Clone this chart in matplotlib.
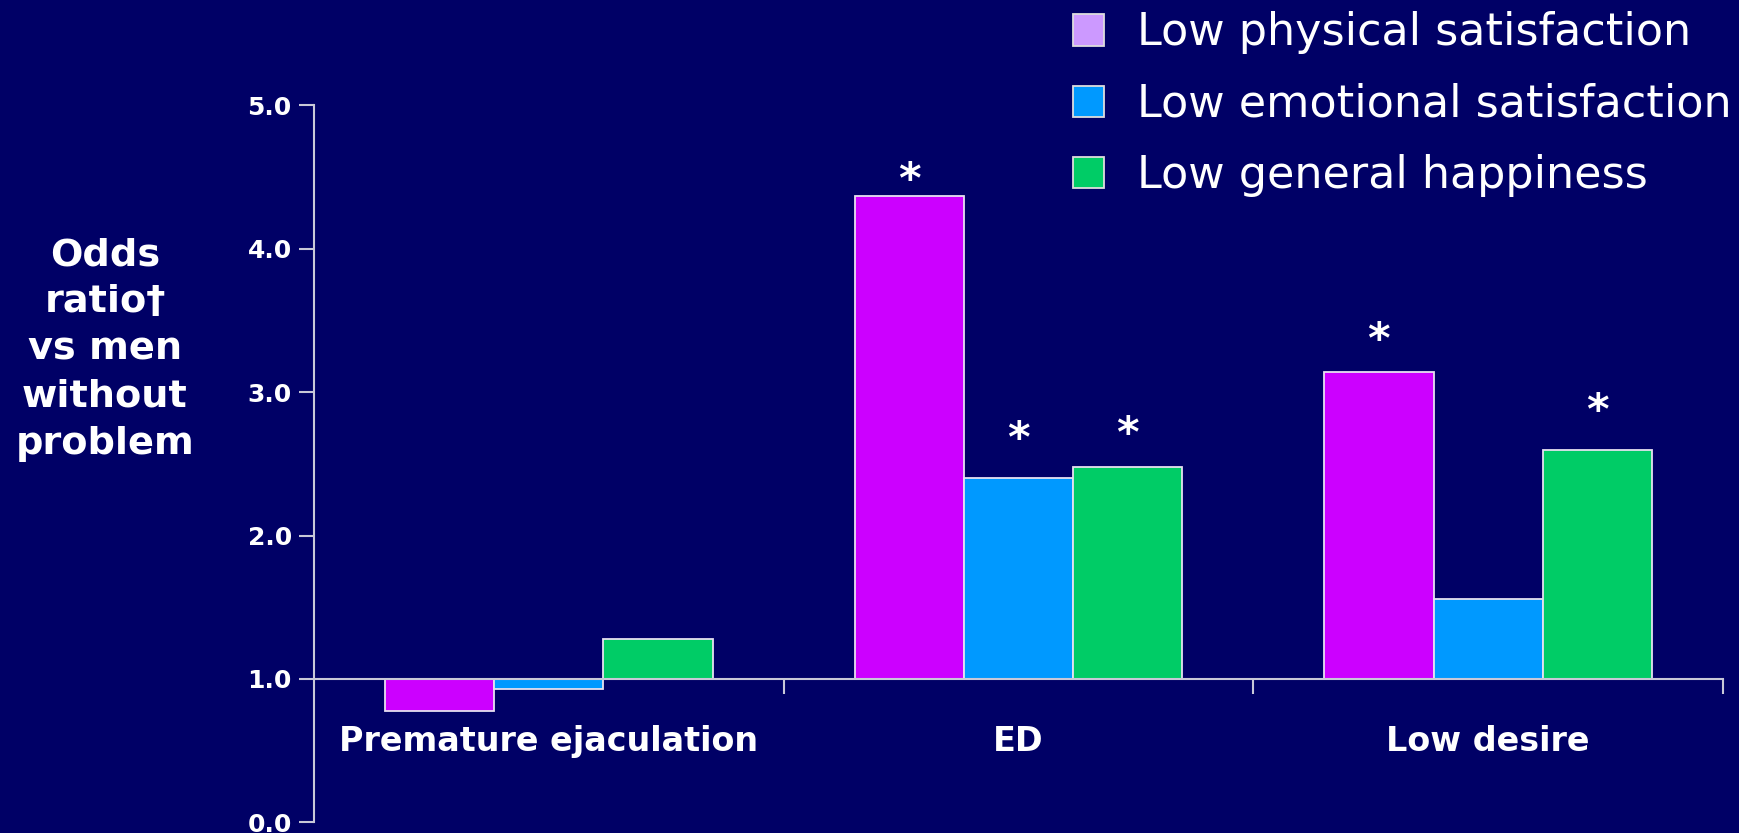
import matplotlib
matplotlib.use("Agg")
import matplotlib.pyplot as plt
from matplotlib.patches import Patch
from matplotlib.ticker import FixedLocator
import numpy as np

# ---- data ----
categories = ["Premature ejaculation", "ED", "Low desire"]
series_names = ["Low physical satisfaction", "Low emotional satisfaction", "Low general happiness"]
physical = [0.78, 4.37, 3.14]
emotional = [0.93, 2.40, 1.56]
happiness = [1.28, 2.48, 2.60]
significant = [  # asterisk flags per series, per category
    [False, True, True],
    [False, True, False],
    [False, True, True],
]
y_ticks = [0.0, 1.0, 2.0, 3.0, 4.0, 5.0]
y_label = "Odds\nratio\u2020\nvs men\nwithout\nproblem"
reference_value = 1.0

# ---- style ----
BG = "#000066"
bar_colors = ["#CC00FF", "#0099FF", "#00CC66"]
legend_colors = ["#CC99FF", "#0099FF", "#00CC66"]
edge = "#E6E0F0"
axis_col = "#C8C8D8"
# vertical gap (data units) between bar top and asterisk, per series/category
star_gap = [[0, 0.105, 0.215], [0, 0.265, 0], [0, 0.225, 0.265]]

W, H = 1740, 833
fig = plt.figure(figsize=(W / 100, H / 100), dpi=100, facecolor=BG)
ax = fig.add_axes([314 / W, 1 - 822.4 / H, 1409 / W, 717 / H])
ax.set_facecolor(BG)

x = np.arange(len(categories))
bw = 0.2327
values = [physical, emotional, happiness]
for i, vals in enumerate(values):
    heights = [v - reference_value for v in vals]
    xs = x + (i - 1) * bw
    ax.bar(xs, heights, width=bw, bottom=reference_value, color=bar_colors[i],
           edgecolor=edge, linewidth=1.3, zorder=3)
    for j, v in enumerate(vals):
        if significant[i][j]:
            ax.text(xs[j], v + star_gap[i][j], "*", ha="center", va="center",
                    color="white", fontsize=31, fontweight="bold", zorder=4)

ax.set_xlim(-0.5, len(categories) - 0.5)
ax.set_ylim(0, 5)

for s in ["top", "right"]:
    ax.spines[s].set_visible(False)
ax.spines["left"].set_color(axis_col)
ax.spines["left"].set_linewidth(1.5)
ax.spines["bottom"].set_position(("data", reference_value))
ax.spines["bottom"].set_color(axis_col)
ax.spines["bottom"].set_linewidth(1.5)
ax.spines["bottom"].set_zorder(5)

ax.set_yticks(y_ticks)
ax.set_yticklabels([f"{t:.1f}" for t in y_ticks], fontsize=18, fontweight="bold", color="white")
ax.tick_params(axis="y", direction="out", length=11, width=1.5, color=axis_col, pad=5)

ax.set_xticks(x)
ax.set_xticklabels(categories, fontsize=24, fontweight="bold", color="white")
ax.tick_params(axis="x", which="major", length=0, pad=33)
ax.xaxis.set_minor_locator(FixedLocator(list(x[1:] - 0.5) + [len(categories) - 0.5]))
ax.tick_params(axis="x", which="minor", direction="out", length=11, width=1.5, color=axis_col)

ax.set_ylabel(y_label, rotation=0, fontsize=27.5, fontweight="bold", color="white",
              ha="center", va="center", multialignment="center", linespacing=1.4)
ax.yaxis.set_label_coords((105 - 314) / 1409, (822.4 - 349.5) / 717)

handles = [Patch(facecolor=c, edgecolor="#DDDDDD", linewidth=1.3) for c in legend_colors]
leg = fig.legend(handles, series_names, loc="upper left",
                 bbox_to_anchor=(1073 / W, 1 - 11.5 / H), frameon=False,
                 fontsize=32, handlelength=0.7, handleheight=0.7,
                 handletextpad=0.74, labelspacing=0.64, borderpad=0, borderaxespad=0)
for t in leg.get_texts():
    t.set_color("white")

fig.savefig("out.png", dpi=100, facecolor=BG)
